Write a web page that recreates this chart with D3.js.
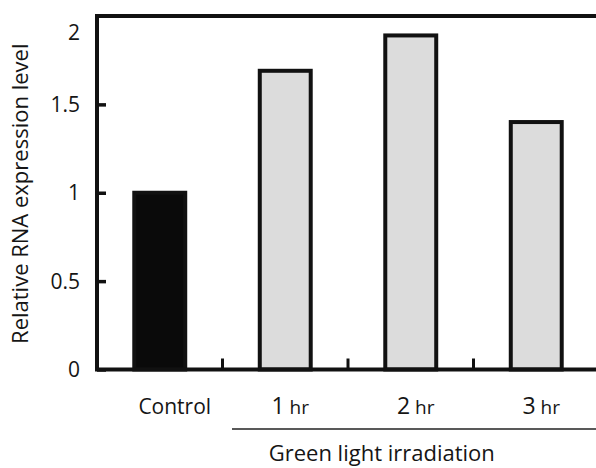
<!DOCTYPE html>
<html>
<head>
<meta charset="utf-8">
<script src="https://cdn.jsdelivr.net/npm/d3@7"></script>
<style>
  html, body { margin: 0; padding: 0; background: #fff; }
  svg { display: block; font-family: "Open Sans", "Noto Sans", sans-serif; }
</style>
</head>
<body>
<svg id="chart" width="596" height="468"></svg>
<script>
// Relative RNA expression after green light irradiation
const categories = ["Control", "1 hr", "2 hr", "3 hr"];
const values = [1.0, 1.69, 1.89, 1.40];
const yTicks = [0, 0.5, 1, 1.5, 2];
const yTickLabels = ["0", "0.5", "1", "1.5", "2"];
const yTitle = "Relative RNA expression level";
const groupTitle = "Green light irradiation";

const svg = d3.select("#chart");
const W = 596, H = 468;
const plot = { left: 97, right: 599, top: 16, bottom: 369.5 };

svg.append("rect").attr("width", W).attr("height", H).attr("fill", "#fff");

const x = d3.scaleBand()
  .domain(categories)
  .range([plot.left, plot.right])
  .paddingInner(0.594)
  .paddingOuter(0.297);

const y = d3.scaleLinear().domain([0, 2]).range([plot.bottom, plot.top]);

// bars
svg.append("g").selectAll("rect")
  .data(categories.map((c, i) => ({ c, v: values[i], i })))
  .join("rect")
  .attr("x", d => x(d.c))
  .attr("width", x.bandwidth())
  .attr("y", d => y(d.v))
  .attr("height", d => y(0) - y(d.v))
  .attr("fill", d => d.i === 0 ? "#0a0a0a" : "#dcdcdc")
  .attr("stroke", "#111")
  .attr("stroke-width", 4);

// frame: top and left lines
svg.append("path")
  .attr("d", `M${plot.right},${plot.top}H${plot.left}V${plot.bottom}`)
  .attr("fill", "none").attr("stroke", "#111").attr("stroke-width", 4);

// y axis ticks and labels
const yAxis = d3.axisLeft(y)
  .tickValues(yTicks)
  .tickFormat((d, i) => yTickLabels[i])
  .tickSizeInner(-9)
  .tickSizeOuter(0)
  .tickPadding(17);
const gy = svg.append("g").attr("transform", `translate(${plot.left},0)`).call(yAxis);
gy.select(".domain").remove();
gy.selectAll(".tick line").attr("stroke", "#111").attr("stroke-width", 3.5)
  .attr("display", d => d === 2 ? "none" : null);
gy.selectAll(".tick text")
  .attr("font-size", 21).attr("fill", "#151515")
  .attr("font-family", "'Open Sans', sans-serif")
  .attr("dy", d => d === 2 ? "1.1em" : "0.34em");

// x baseline
svg.append("line")
  .attr("x1", plot.left - 2).attr("x2", plot.right)
  .attr("y1", y(0)).attr("y2", y(0))
  .attr("stroke", "#111").attr("stroke-width", 4);

// separators between categories
const step = x.step();
const bounds = categories.slice(0, -1).map(c => x(c) + x.bandwidth() / 2 + step / 2);
svg.append("g").selectAll("line")
  .data(bounds)
  .join("line")
  .attr("x1", d => d).attr("x2", d => d)
  .attr("y1", y(0)).attr("y2", y(0) - 11)
  .attr("stroke", "#111").attr("stroke-width", 3);

// category labels
const labels = svg.append("g").selectAll("text")
  .data(categories)
  .join("text")
  .attr("x", (d, i) => x(d) + x.bandwidth() / 2 + (i === 0 ? 15 : 5))
  .attr("y", 414)
  .attr("text-anchor", "middle")
  .attr("fill", "#151515");
labels.each(function(d) {
  const t = d3.select(this);
  const parts = d.split(" ");
  if (parts.length === 1) {
    t.attr("font-size", 21).text(d);
  } else {
    t.append("tspan").attr("font-size", 23).text(parts[0]);
    t.append("tspan").attr("font-size", 19).text(" " + parts[1]);
  }
});

// group underline and title
svg.append("line")
  .attr("x1", 232).attr("x2", W + 4)
  .attr("y1", 429).attr("y2", 429)
  .attr("stroke", "#222").attr("stroke-width", 1.5);
svg.append("text")
  .attr("x", (bounds[0] + plot.right) / 2 - 29)
  .attr("y", 461)
  .attr("text-anchor", "middle")
  .attr("font-size", 22)
  .attr("fill", "#151515")
  .text(groupTitle);

// y axis title
svg.append("text")
  .attr("transform", `translate(28,${(plot.top + plot.bottom) / 2 + 1}) rotate(-90)`)
  .attr("text-anchor", "middle")
  .attr("font-size", 22)
  .attr("fill", "#151515")
  .text(yTitle);
</script>
</body>
</html>
